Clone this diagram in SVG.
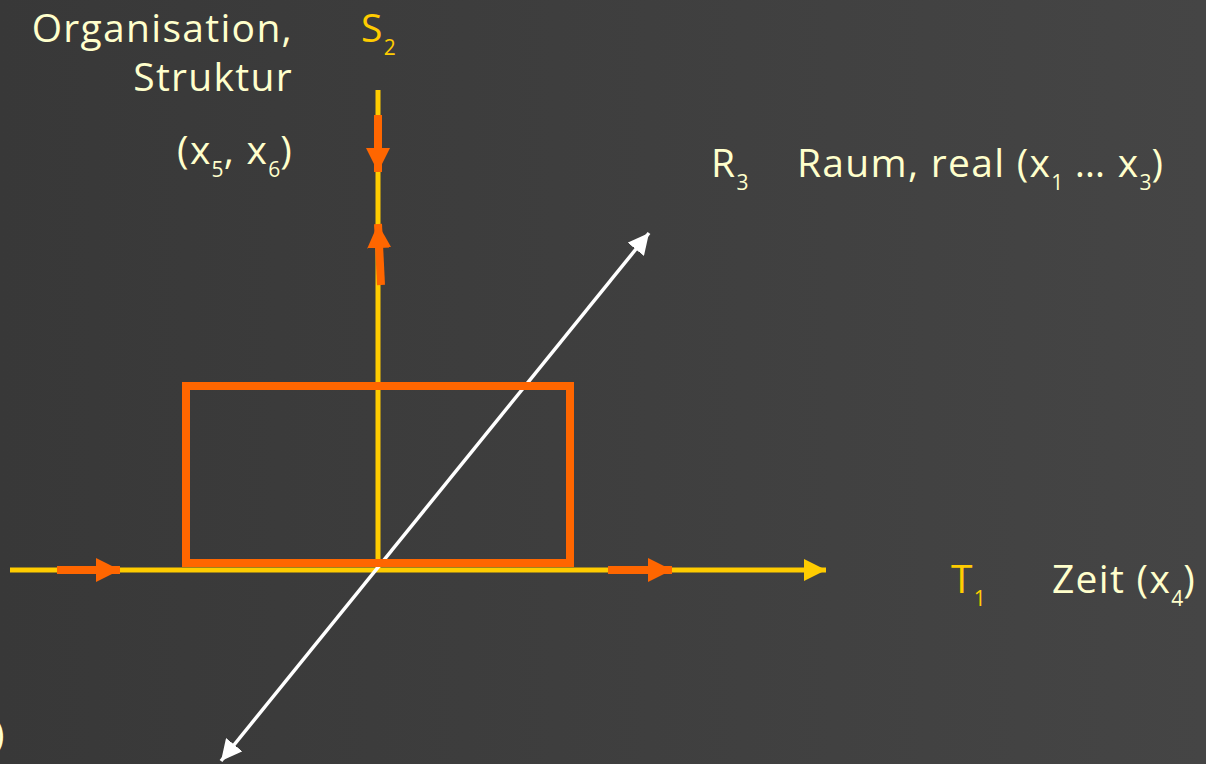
<svg xmlns="http://www.w3.org/2000/svg" width="1206" height="764" viewBox="0 0 1206 764">
<style>
.t{font-family:"Open Sans","Liberation Sans",sans-serif;font-size:39px;letter-spacing:1.3px;fill:#FFFFCC}
.y{fill:#FFCC00}
.s{font-size:21px;letter-spacing:0}
.ax{stroke:#FFCC00;stroke-width:5;fill:none}
.or{stroke:#FF6600;stroke-width:8;fill:none}
</style>
<defs>
<linearGradient id="bg" x1="0" y1="0" x2="1" y2="0">
<stop offset="0" stop-color="#383838"/>
<stop offset="1" stop-color="#454545"/>
</linearGradient>
<marker id="ya" viewBox="0 0 10 10" refX="10" refY="5" markerWidth="4.4" markerHeight="4.4" orient="auto" markerUnits="strokeWidth"><path d="M0,0L10,5L0,10z" fill="#FFCC00"/></marker>
<marker id="oa" viewBox="0 0 10 10" refX="10" refY="5" markerWidth="3" markerHeight="3" orient="auto" markerUnits="strokeWidth"><path d="M0,0L10,5L0,10z" fill="#FF6600"/></marker>
<marker id="wa" viewBox="0 0 10 10" refX="10" refY="5" markerWidth="6" markerHeight="6" orient="auto-start-reverse" markerUnits="strokeWidth"><path d="M0,0L10,5L0,10z" fill="#FFFFFF"/></marker>
</defs>
<rect width="1206" height="764" fill="url(#bg)"/>
<g id="connectors">
<line class="ax" x1="10" y1="570" x2="826" y2="570" marker-end="url(#ya)"/>
<line class="ax" x1="378" y1="90" x2="378" y2="570"/>
<line x1="221" y1="761" x2="649" y2="233" stroke="#FFFFFF" stroke-width="3.5" marker-start="url(#wa)" marker-end="url(#wa)"/>
<line class="or" x1="57" y1="570" x2="120" y2="570" marker-end="url(#oa)"/>
<line class="or" x1="608" y1="570" x2="672" y2="570" marker-end="url(#oa)"/>
<line class="or" x1="378" y1="115" x2="378" y2="172" marker-end="url(#oa)"/>
<line class="or" x1="381" y1="285" x2="378" y2="224" marker-end="url(#oa)"/>
</g>
<g id="box"><rect class="or" x="186" y="386" width="384" height="177"/></g>
<g id="labelS">
<text class="t" x="293" y="42" text-anchor="end">Organisation,</text>
<text class="t" x="293" y="91" text-anchor="end">Struktur</text>
<text class="t" x="293" y="164" text-anchor="end">(x<tspan class="s" dy="13">5</tspan><tspan dy="-13">, x</tspan><tspan class="s" dy="13">6</tspan><tspan dy="-13">)</tspan></text>
<text class="t y" x="361" y="42">S<tspan class="s" dy="13">2</tspan></text>
</g>
<g id="labelR">
<text class="t" x="711" y="177">R<tspan class="s" dy="13">3</tspan></text>
<text class="t" x="797" y="177">Raum, real (x<tspan class="s" dy="13">1</tspan><tspan dy="-13"> … x</tspan><tspan class="s" dy="13">3</tspan><tspan dy="-13">)</tspan></text>
</g>
<g id="labelT">
<text class="t y" x="951" y="593">T<tspan class="s" dy="13">1</tspan></text>
<text class="t" x="1052" y="593">Zeit (x<tspan class="s" dy="13">4</tspan><tspan dy="-13">)</tspan></text>
</g>
<g id="labelX"><text class="t" x="-7" y="748">)</text></g>
</svg>
